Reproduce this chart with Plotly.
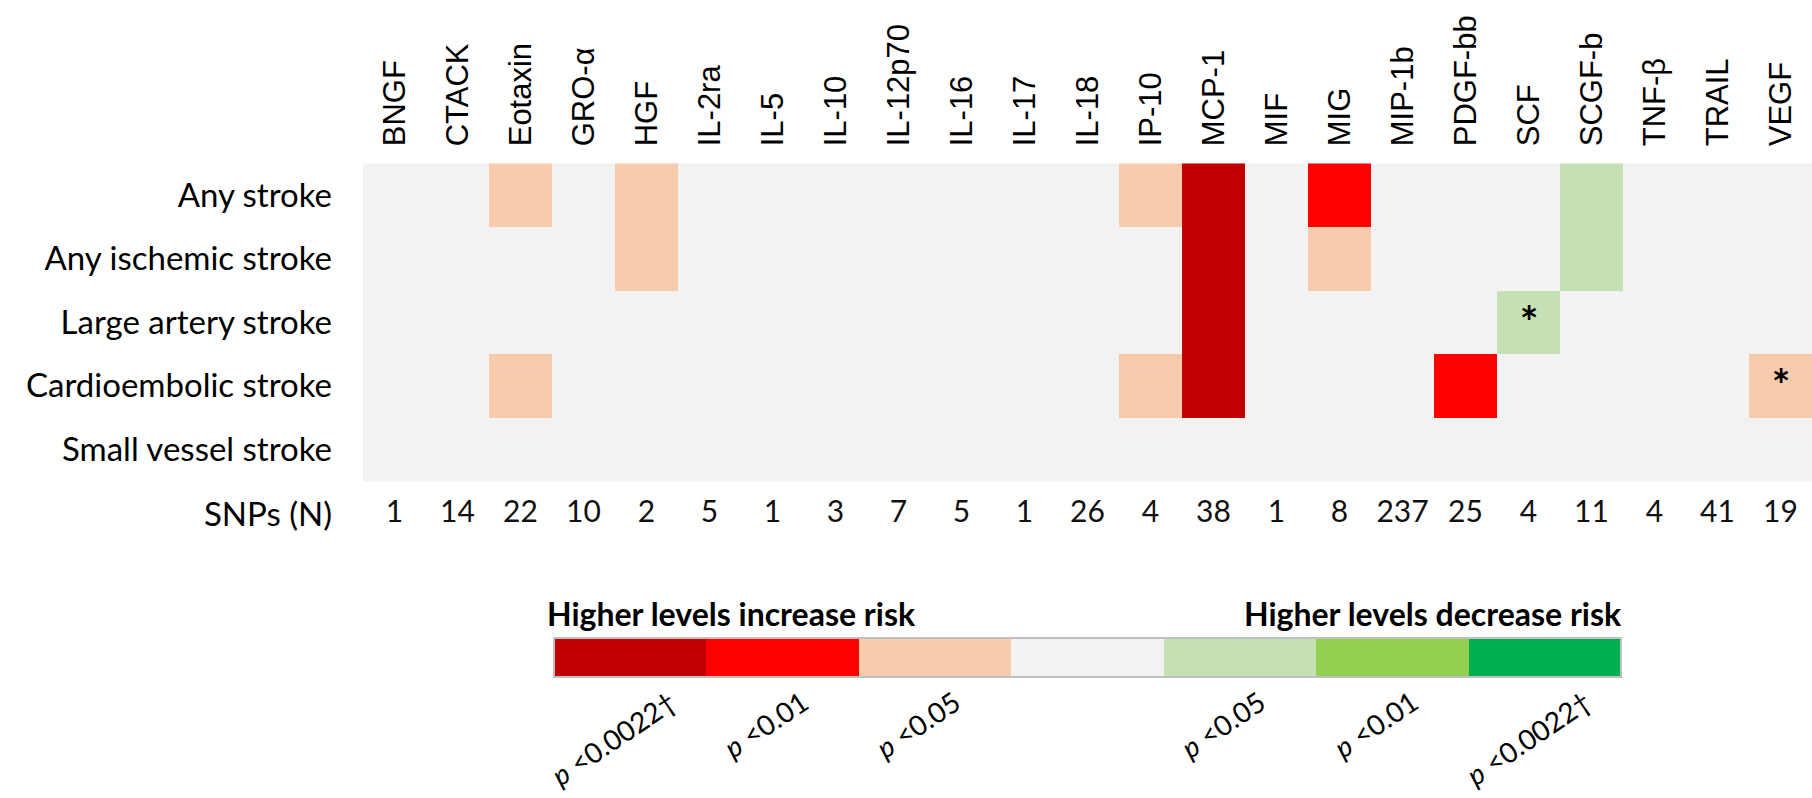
import plotly.graph_objects as go

# ---- data -------------------------------------------------------------
cytokines = ["BNGF", "CTACK", "Eotaxin", "GRO-α", "HGF", "IL-2ra", "IL-5", "IL-10",
             "IL-12p70", "IL-16", "IL-17", "IL-18", "IP-10", "MCP-1", "MIF", "MIG",
             "MIP-1b", "PDGF-bb", "SCF", "SCGF-b", "TNF-β", "TRAIL", "VEGF"]

outcomes = ["Any stroke", "Any ischemic stroke", "Large artery stroke",
            "Cardioembolic stroke", "Small vessel stroke"]

# signed significance level per cytokine:
#  +3 p<0.0022, +2 p<0.01, +1 p<0.05 (higher levels increase risk)
#  -1 p<0.05, -2 p<0.01, -3 p<0.0022 (higher levels decrease risk)
any_stroke    = [0, 0, 1, 0, 1, 0, 0, 0, 0, 0, 0, 0, 1, 3, 0, 2, 0, 0, 0, -1, 0, 0, 0]
any_ischemic  = [0, 0, 0, 0, 1, 0, 0, 0, 0, 0, 0, 0, 0, 3, 0, 1, 0, 0, 0, -1, 0, 0, 0]
large_artery  = [0, 0, 0, 0, 0, 0, 0, 0, 0, 0, 0, 0, 0, 3, 0, 0, 0, 0, -1, 0, 0, 0, 0]
cardioembolic = [0, 0, 1, 0, 0, 0, 0, 0, 0, 0, 0, 0, 1, 3, 0, 0, 0, 2, 0, 0, 0, 0, 1]
small_vessel  = [0, 0, 0, 0, 0, 0, 0, 0, 0, 0, 0, 0, 0, 0, 0, 0, 0, 0, 0, 0, 0, 0, 0]

# cell flags (*)
any_stroke_flag    = [""] * 23
any_ischemic_flag  = [""] * 23
large_artery_flag  = ["", "", "", "", "", "", "", "", "", "", "", "", "", "", "", "", "", "", "*", "", "", "", ""]
cardioembolic_flag = ["", "", "", "", "", "", "", "", "", "", "", "", "", "", "", "", "", "", "", "", "", "", "*"]
small_vessel_flag  = [""] * 23

snps = [1, 14, 22, 10, 2, 5, 1, 3, 7, 5, 1, 26, 4, 38, 1, 8, 237, 25, 4, 11, 4, 41, 19]

# legend key
key_levels = [3, 2, 1, 0, -1, -2, -3]
key_labels = ["<i>p</i> &lt;0.0022†", "<i>p</i> &lt;0.01", "<i>p</i> &lt;0.05", "",
              "<i>p</i> &lt;0.05", "<i>p</i> &lt;0.01", "<i>p</i> &lt;0.0022†"]

# colours for levels -3 .. +3
level_colors = ["#00B050", "#92D050", "#C5E0B4", "#F2F2F2", "#F8CBAD", "#FF0000", "#C00000"]

# ---- styling ----------------------------------------------------------
W, H = 1812, 798
n = len(level_colors)
colorscale = []
for i, c in enumerate(level_colors):
    colorscale.append([i / n, c])
    colorscale.append([(i + 1) / n, c])

SANS = "Liberation Sans, Arial, sans-serif"
CAL = "Lato, Carlito, Calibri, sans-serif"
SNP_ROW = 5.03

def px_x(p):
    return p / W

def px_y(p):
    return 1 - p / H

z = [any_stroke, any_ischemic, large_artery, cardioembolic, small_vessel]
flags = [any_stroke_flag, any_ischemic_flag, large_artery_flag,
         cardioembolic_flag, small_vessel_flag]

fig = go.Figure()

fig.add_trace(go.Heatmap(
    z=z, x=cytokines, y=list(range(len(outcomes))),
    text=flags, texttemplate="<b>%{text}</b>",
    textfont=dict(family=CAL, size=44, color="black"),
    colorscale=colorscale, zmin=-3.5, zmax=3.5,
    showscale=False, hoverinfo="skip", xaxis="x", yaxis="y",
))

fig.add_trace(go.Scatter(
    x=cytokines, y=[SNP_ROW] * len(cytokines), mode="text",
    text=[str(v) for v in snps],
    textfont=dict(family=CAL, size=30, color="#111111"),
    hoverinfo="skip", showlegend=False, xaxis="x", yaxis="y",
))

# key bar
fig.add_trace(go.Heatmap(
    z=[key_levels], x=list(range(len(key_levels))), y=[0],
    colorscale=colorscale, zmin=-3.5, zmax=3.5,
    showscale=False, hoverinfo="skip", xaxis="x2", yaxis="y2",
))

fig.update_layout(
    width=W, height=H, autosize=False,
    margin=dict(l=0, r=0, t=0, b=0),
    paper_bgcolor="white", plot_bgcolor="white",
    showlegend=False,
    xaxis=dict(
        domain=[px_x(363), 1], side="top", type="category",
        range=[-0.5, len(cytokines) - 0.5],
        tickangle=-90, ticklabelstandoff=16,
        tickfont=dict(family=SANS, size=31, color="black"),
        showgrid=False, zeroline=False, showline=False, ticks="",
    ),
    yaxis=dict(
        domain=[px_y(544.6), px_y(163.3)],
        range=[5.5, -0.5],
        tickvals=[0, 1, 2, 3, 4, SNP_ROW],
        ticktext=outcomes + ["SNPs (N)"],
        ticklabelstandoff=30,
        tickfont=dict(family=CAL, size=33, color="black"),
        showgrid=False, zeroline=False, showline=False, ticks="",
    ),
    xaxis2=dict(
        domain=[px_x(554), px_x(1621)], anchor="y2",
        range=[-0.5, len(key_levels) - 0.5],
        visible=False,
    ),
    yaxis2=dict(
        domain=[px_y(677), px_y(638)], anchor="x2",
        range=[-0.5, 0.5], visible=False,
    ),
)

fig.add_shape(type="rect", xref="x2 domain", yref="y2 domain",
              x0=0, x1=1, y0=0, y1=1,
              line=dict(color="#BFBFBF", width=2))

fig.add_annotation(text="<b>Higher levels increase risk</b>",
                   xref="paper", yref="paper", x=px_x(545), y=px_y(613),
                   xanchor="left", yanchor="middle", showarrow=False,
                   font=dict(family=CAL, size=32, color="black"))
fig.add_annotation(text="<b>Higher levels decrease risk</b>",
                   xref="paper", yref="paper", x=px_x(1624), y=px_y(613),
                   xanchor="right", yanchor="middle", showarrow=False,
                   font=dict(family=CAL, size=32, color="black"))

for i, lab in enumerate(key_labels):
    if not lab:
        continue
    fig.add_annotation(text=lab, xref="x2", yref="paper",
                       x=i - 0.11, y=px_y(681),
                       xanchor="center", yanchor="top", showarrow=False,
                       textangle=-34,
                       font=dict(family=CAL, size=28, color="black"))

fig.write_html("out.html")
